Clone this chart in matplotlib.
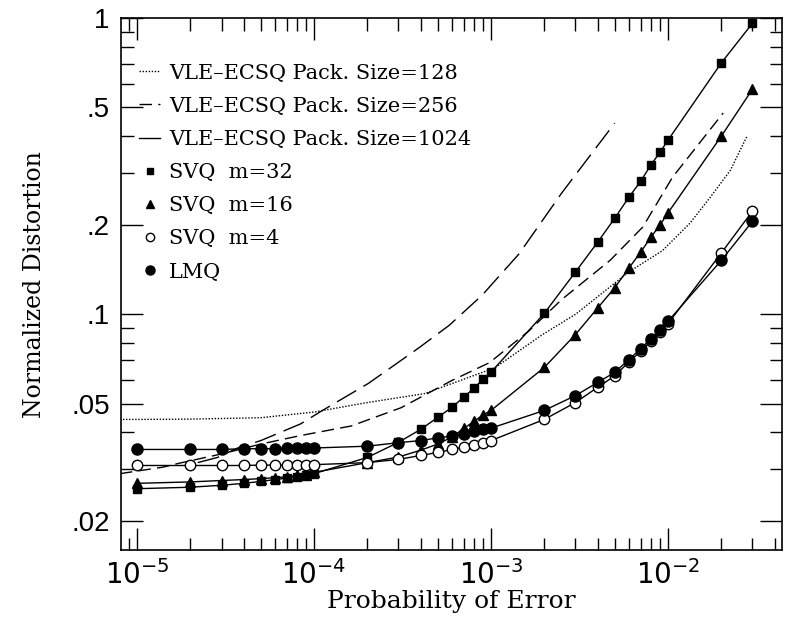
import matplotlib
matplotlib.use("Agg")
import matplotlib.pyplot as plt
from matplotlib.lines import Line2D
from matplotlib.ticker import FixedLocator, FixedFormatter, LogLocator, NullFormatter

# error probabilities at which the SVQ / LMQ curves are sampled
p_err = [1e-5, 2e-5, 3e-5, 4e-5, 5e-5, 6e-5, 7e-5, 8e-5, 9e-5, 1e-4,
         2e-4, 3e-4, 4e-4, 5e-4, 6e-4, 7e-4, 8e-4, 9e-4, 1e-3,
         2e-3, 3e-3, 4e-3, 5e-3, 6e-3, 7e-3, 8e-3, 9e-3, 1e-2,
         2e-2, 3e-2]

svq32 = [0.0258, 0.0261, 0.0265, 0.0269, 0.0273, 0.0277, 0.0280, 0.0283, 0.0286, 0.0290,
         0.0329, 0.0370, 0.0409, 0.0449, 0.0485, 0.0525, 0.0563, 0.0603, 0.0638,
         0.1008, 0.139, 0.175, 0.211, 0.248, 0.281, 0.319, 0.352, 0.387,
         0.705, 0.96]
svq16 = [0.0269, 0.0272, 0.0275, 0.0277, 0.0279, 0.0281, 0.0283, 0.0286, 0.0288, 0.0293,
         0.0316, 0.0330, 0.0348, 0.0365, 0.0385, 0.0412, 0.0435, 0.0458, 0.0474,
         0.0662, 0.0855, 0.105, 0.123, 0.143, 0.162, 0.182, 0.200, 0.220,
         0.399, 0.575]
svq4 = [0.0309, 0.0309, 0.0309, 0.0309, 0.0310, 0.0310, 0.0310, 0.0310, 0.0311, 0.0311,
        0.0316, 0.0324, 0.0334, 0.0342, 0.0350, 0.0356, 0.0362, 0.0368, 0.0375,
        0.0442, 0.0504, 0.0567, 0.0620, 0.0690, 0.0750, 0.0810, 0.0870, 0.0930,
        0.161, 0.223]
lmq = [0.0350, 0.0350, 0.0350, 0.0352, 0.0352, 0.0352, 0.0353, 0.0353, 0.0353, 0.0354,
       0.0359, 0.0369, 0.0375, 0.0383, 0.0388, 0.0396, 0.0403, 0.0409, 0.0413,
       0.0474, 0.0532, 0.0589, 0.0637, 0.0703, 0.0765, 0.0828, 0.0883, 0.0947,
       0.152, 0.206]

# VLE-ECSQ curves
vle128_x = [8e-6, 1e-5, 2e-5, 5e-5, 1e-4, 2e-4, 4.2e-4, 1.05e-3, 1.95e-3, 3e-3,
            6e-3, 9.3e-3, 1.33e-2, 1.73e-2, 2.25e-2, 2.8e-2]
vle128_y = [0.0442, 0.0442, 0.0443, 0.0448, 0.0468, 0.0504, 0.054, 0.066, 0.0854, 0.100,
            0.139, 0.164, 0.203, 0.248, 0.306, 0.40]

vle256_x = [8e-6, 1.4e-5, 1.75e-5, 3e-5, 5e-5, 8.4e-5, 1.62e-4, 3.1e-4, 6e-4, 9.8e-4,
            1.64e-3, 2.5e-3, 3.4e-3, 4.7e-3, 7.2e-3, 1.06e-2, 2.05e-2]
vle256_y = [0.0290, 0.0305, 0.0315, 0.0338, 0.0365, 0.0390, 0.0420, 0.0484, 0.0598, 0.0687,
            0.088, 0.112, 0.130, 0.152, 0.197, 0.290, 0.478]

vle1024_x = [2.2e-5, 2.85e-5, 3.7e-5, 5e-5, 8.4e-5, 1.09e-4, 2.03e-4, 3.9e-4, 5.8e-4,
             8.9e-4, 1.44e-3, 2.5e-3, 5e-3]
vle1024_y = [0.0316, 0.0329, 0.0354, 0.0375, 0.0427, 0.0470, 0.0585, 0.077, 0.0918,
             0.116, 0.160, 0.256, 0.442]

y_major = [0.02, 0.05, 0.1, 0.2, 0.5, 1]
y_major_labels = [".02", ".05", ".1", ".2", ".5", "1"]
y_minor = [0.03, 0.04, 0.06, 0.07, 0.08, 0.09, 0.3, 0.4, 0.6, 0.7, 0.8, 0.9]

serif = "DejaVu Serif"
sans = "Liberation Sans"


def main():
    fig = plt.figure(figsize=(7.85, 6.21), dpi=100)
    ax = fig.add_axes([0.154, 0.114, 0.842, 0.857])
    ax.set_xscale("log")
    ax.set_yscale("log")

    lw = 1.0
    ax.plot(vle128_x, vle128_y, color="black", lw=lw, linestyle=(0, (1.0, 1.2)))
    ax.plot(vle256_x, vle256_y, color="black", lw=lw, linestyle=(0, (9, 4.5)))
    ax.plot(vle1024_x, vle1024_y, color="black", lw=lw, linestyle=(0, (16, 6)))

    ax.plot(p_err, svq32, color="black", lw=lw, marker="s", ms=5.5)
    ax.plot(p_err, svq16, color="black", lw=lw, marker="^", ms=6.5)
    ax.plot(p_err, svq4, color="black", lw=lw, marker="o", ms=7.5,
            mfc="white", mec="black", mew=1.0)
    ax.plot(p_err, lmq, color="black", lw=lw, marker="o", ms=8)

    ax.set_xlim(8.1e-6, 0.044)
    ax.set_ylim(0.016, 1.0)

    ax.xaxis.set_major_locator(FixedLocator([1e-5, 1e-4, 1e-3, 1e-2]))
    ax.xaxis.set_major_formatter(FixedFormatter(
        [r"$10^{-5}$", r"$10^{-4}$", r"$10^{-3}$", r"$10^{-2}$"]))
    ax.xaxis.set_minor_locator(LogLocator(base=10, subs=range(2, 10)))
    ax.xaxis.set_minor_formatter(NullFormatter())

    ax.yaxis.set_major_locator(FixedLocator(y_major))
    ax.yaxis.set_major_formatter(FixedFormatter(y_major_labels))
    ax.yaxis.set_minor_locator(FixedLocator(y_minor))
    ax.yaxis.set_minor_formatter(NullFormatter())

    ax.tick_params(which="both", direction="in", top=True, right=True, width=1.0)
    ax.tick_params(which="major", length=16, labelsize=20, pad=8)
    ax.tick_params(axis="x", which="major", pad=7)
    ax.tick_params(which="minor", length=9)
    for lab in ax.get_xticklabels() + ax.get_yticklabels():
        lab.set_fontfamily(sans)
    for sp in ax.spines.values():
        sp.set_linewidth(1.2)

    ax.set_xlabel("Probability of Error", fontfamily=serif, fontsize=18, labelpad=0)
    ax.set_ylabel("Normalized Distortion", fontfamily=serif, fontsize=17, labelpad=18)

    handles = [
        Line2D([], [], color="black", lw=lw, linestyle=(0, (1.0, 1.2))),
        Line2D([], [], color="black", lw=lw, linestyle=(0, (9, 4.5))),
        Line2D([], [], color="black", lw=lw, linestyle="-"),
        Line2D([], [], color="black", ls="none", marker="s", ms=4.5),
        Line2D([], [], color="black", ls="none", marker="^", ms=5.5),
        Line2D([], [], color="black", ls="none", marker="o", ms=6,
               mfc="white", mew=1.0),
        Line2D([], [], color="black", ls="none", marker="o", ms=6.5),
    ]
    labels = ["VLE–ECSQ Pack. Size=128", "VLE–ECSQ Pack. Size=256",
              "VLE–ECSQ Pack. Size=1024", "SVQ  m=32", "SVQ  m=16",
              "SVQ  m=4", "LMQ"]
    ax.legend(handles, labels, loc="upper left", bbox_to_anchor=(0.015, 0.93),
              frameon=False, handlelength=1.0, handletextpad=0.45,
              labelspacing=0.68, borderaxespad=0,
              prop={"family": serif, "size": 15})

    fig.savefig("out.png", dpi=100)


if __name__ == "__main__":
    main()
